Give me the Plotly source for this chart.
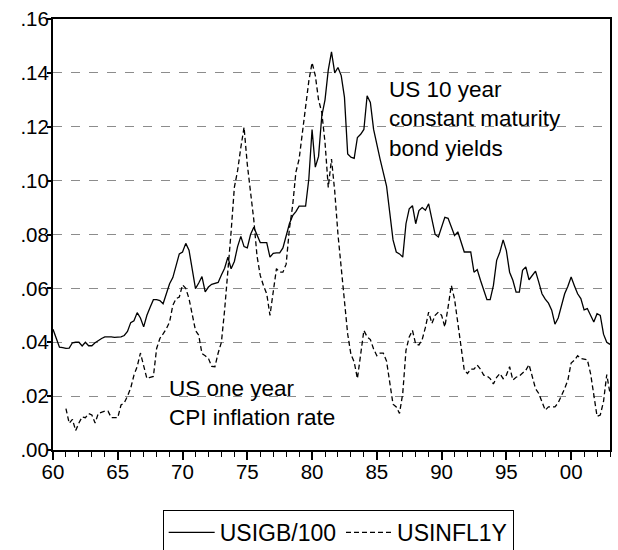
import plotly.graph_objects as go

# Quarterly observations, 1960Q1 .. 2003Q1
start_year = 1960

usigb = [
    0.0448, 0.0415, 0.0382, 0.0380,  # 1960
    0.0377, 0.0378, 0.0398, 0.0400,  # 1961
    0.0400, 0.0386, 0.0400, 0.0387,  # 1962
    0.0387, 0.0398, 0.0407, 0.0414,  # 1963
    0.0420, 0.0421, 0.0420, 0.0418,  # 1964
    0.0418, 0.0420, 0.0425, 0.0440,  # 1965
    0.0473, 0.0480, 0.0510, 0.0490,  # 1966
    0.0457, 0.0500, 0.0530, 0.0558,  # 1967
    0.0558, 0.0555, 0.0543, 0.0580,  # 1968
    0.0617, 0.0640, 0.0680, 0.0728,  # 1969
    0.0735, 0.0767, 0.0742, 0.0670,  # 1970
    0.0599, 0.0620, 0.0644, 0.0587,  # 1971
    0.0605, 0.0615, 0.0620, 0.0622,  # 1972
    0.0650, 0.0675, 0.0716, 0.0673,  # 1973
    0.0700, 0.0755, 0.0793, 0.0755,  # 1974
    0.0750, 0.0800, 0.0827, 0.0799,  # 1975
    0.0770, 0.0770, 0.0770, 0.0716,  # 1976
    0.0730, 0.0732, 0.0732, 0.0750,  # 1977
    0.0800, 0.0840, 0.0870, 0.0885,  # 1978
    0.0905, 0.0905, 0.0905, 0.1006,  # 1979
    0.1190, 0.1050, 0.1090, 0.1240,  # 1980
    0.1300, 0.1410, 0.1478, 0.1400,  # 1981
    0.1420, 0.1390, 0.1310, 0.1099,  # 1982
    0.1087, 0.1083, 0.1160, 0.1172,  # 1983
    0.1190, 0.1315, 0.1290, 0.1190,  # 1984
    0.1130, 0.1080, 0.1030, 0.0980,  # 1985
    0.0880, 0.0780, 0.0735, 0.0728,  # 1986
    0.0716, 0.0840, 0.0895, 0.0907,  # 1987
    0.0840, 0.0889, 0.0900, 0.0890,  # 1988
    0.0914, 0.0860, 0.0800, 0.0791,  # 1989
    0.0830, 0.0864, 0.0860, 0.0830,  # 1990
    0.0796, 0.0810, 0.0770, 0.0735,  # 1991
    0.0735, 0.0735, 0.0660, 0.0670,  # 1992
    0.0630, 0.0593, 0.0558, 0.0558,  # 1993
    0.0611, 0.0704, 0.0735, 0.0780,  # 1994
    0.0740, 0.0660, 0.0630, 0.0586,  # 1995
    0.0586, 0.0667, 0.0680, 0.0632,  # 1996
    0.0650, 0.0664, 0.0623, 0.0580,  # 1997
    0.0560, 0.0545, 0.0519, 0.0467,  # 1998
    0.0490, 0.0540, 0.0580, 0.0608,  # 1999
    0.0642, 0.0610, 0.0580, 0.0562,  # 2000
    0.0520, 0.0525, 0.0500, 0.0475,  # 2001
    0.0506, 0.0500, 0.0430, 0.0400,  # 2002
    0.0392,                          # 2003
]

# inflation series starts in 1961Q1
infl_start_year = 1961
usinfl1y = [
    0.0154, 0.0099, 0.0114, 0.0072,  # 1961
    0.0100, 0.0123, 0.0120, 0.0135,  # 1962
    0.0130, 0.0100, 0.0136, 0.0140,  # 1963
    0.0144, 0.0144, 0.0120, 0.0120,  # 1964
    0.0120, 0.0167, 0.0175, 0.0200,  # 1965
    0.0230, 0.0278, 0.0310, 0.0360,  # 1966
    0.0313, 0.0265, 0.0270, 0.0273,  # 1967
    0.0377, 0.0414, 0.0431, 0.0450,  # 1968
    0.0475, 0.0537, 0.0562, 0.0568,  # 1969
    0.0613, 0.0600, 0.0562, 0.0500,  # 1970
    0.0444, 0.0426, 0.0358, 0.0350,  # 1971
    0.0340, 0.0310, 0.0309, 0.0360,  # 1972
    0.0400, 0.0520, 0.0660, 0.0810,  # 1973
    0.0975, 0.1037, 0.1123, 0.1198,  # 1974
    0.1060, 0.0960, 0.0855, 0.0720,  # 1975
    0.0648, 0.0610, 0.0580, 0.0500,  # 1976
    0.0590, 0.0673, 0.0660, 0.0660,  # 1977
    0.0690, 0.0821, 0.0907, 0.1031,  # 1978
    0.1080, 0.1180, 0.1280, 0.1370,  # 1979
    0.1438, 0.1390, 0.1300, 0.1253,  # 1980
    0.1142, 0.0975, 0.1080, 0.0960,  # 1981
    0.0800, 0.0670, 0.0550, 0.0430,  # 1982
    0.0355, 0.0327, 0.0265, 0.0350,  # 1983
    0.0444, 0.0420, 0.0410, 0.0375,  # 1984
    0.0350, 0.0360, 0.0360, 0.0330,  # 1985
    0.0240, 0.0170, 0.0160, 0.0136,  # 1986
    0.0210, 0.0370, 0.0420, 0.0444,  # 1987
    0.0393, 0.0390, 0.0410, 0.0455,  # 1988
    0.0512, 0.0470, 0.0500, 0.0512,  # 1989
    0.0500, 0.0457, 0.0530, 0.0611,  # 1990
    0.0560, 0.0475, 0.0395, 0.0296,  # 1991
    0.0284, 0.0300, 0.0300, 0.0315,  # 1992
    0.0300, 0.0278, 0.0275, 0.0265,  # 1993
    0.0245, 0.0270, 0.0284, 0.0265,  # 1994
    0.0278, 0.0309, 0.0260, 0.0270,  # 1995
    0.0275, 0.0284, 0.0296, 0.0317,  # 1996
    0.0270, 0.0228, 0.0210, 0.0175,  # 1997
    0.0148, 0.0160, 0.0160, 0.0160,  # 1998
    0.0175, 0.0200, 0.0228, 0.0260,  # 1999
    0.0323, 0.0333, 0.0350, 0.0340,  # 2000
    0.0338, 0.0335, 0.0284, 0.0210,  # 2001
    0.0125, 0.0130, 0.0180, 0.0280,  # 2002
    0.0210,                          # 2003
]

x_tickvals = [1960, 1965, 1970, 1975, 1980, 1985, 1990, 1995, 2000]
x_ticktext = ["60", "65", "70", "75", "80", "85", "90", "95", "00"]
y_tickvals = [0.00, 0.02, 0.04, 0.06, 0.08, 0.10, 0.12, 0.14, 0.16]
y_ticktext = [".00", ".02", ".04", ".06", ".08", ".10", ".12", ".14", ".16"]

x_igb = [start_year + i / 4 for i in range(len(usigb))]
x_infl = [infl_start_year + i / 4 for i in range(len(usinfl1y))]

FONT = "Liberation Sans, Arial, sans-serif"

fig = go.Figure()
fig.add_trace(go.Scatter(
    x=x_igb, y=usigb, mode="lines", name="USIGB/100",
    line=dict(color="black", width=1.3),
))
fig.add_trace(go.Scatter(
    x=x_infl, y=usinfl1y, mode="lines", name="USINFL1Y",
    line=dict(color="black", width=1.3, dash="5px,3px"),
))

# text labels inside the plot
fig.add_annotation(
    x=1985.75, y=0.1228, xref="x", yref="y",
    text="US 10 year<br>constant maturity<br>bond yields",
    showarrow=False, xanchor="left", yanchor="middle", align="left",
    font=dict(family=FONT, size=22.5, color="black"),
)
fig.add_annotation(
    x=1968.8, y=0.0175, xref="x", yref="y",
    text="US one year<br>CPI inflation rate",
    showarrow=False, xanchor="left", yanchor="middle", align="left",
    font=dict(family=FONT, size=22.5, color="black"),
)

fig.update_layout(
    width=618, height=550,
    margin=dict(l=53, r=8, t=19, b=100, autoexpand=False),
    paper_bgcolor="white", plot_bgcolor="white",
    font=dict(family=FONT, size=20.5, color="black"),
    showlegend=True,
    legend=dict(
        orientation="h", x=0.512, xanchor="center",
        y=-0.139, yanchor="top",
        bordercolor="black", borderwidth=1,
        font=dict(family=FONT, size=23, color="black"),
        itemwidth=46, tracegroupgap=0,
    ),
)

fig.update_xaxes(
    range=[1960, 2003], automargin=False,
    tickvals=x_tickvals, ticktext=x_ticktext,
    ticks="outside", ticklen=8, tickwidth=1.5, tickcolor="black",
    ticklabelstandoff=-6,
    minor=dict(ticks="outside", dtick=1, tick0=1960, ticklen=5, tickcolor="black", tickwidth=1),
    showgrid=False, zeroline=False,
    showline=True, linecolor="black", linewidth=2, mirror=True,
    tickfont=dict(family=FONT, size=20.5),
)
fig.update_yaxes(
    range=[0, 0.16], automargin=False,
    tickvals=y_tickvals, ticktext=y_ticktext,
    ticks="outside", ticklen=4, tickwidth=1.5, tickcolor="black",
    ticklabelstandoff=-6,
    showgrid=True, gridcolor="#8c8c8c", gridwidth=1, griddash="dash",
    zeroline=False,
    showline=True, linecolor="black", linewidth=2, mirror=True,
    tickfont=dict(family=FONT, size=20.5),
)

# drop the default page margin so the figure sits at the window's corner
fig.write_html(
    "out.html",
    config={"displayModeBar": False},
    post_script="document.body.style.margin='0px';document.body.style.overflow='hidden';",
)
